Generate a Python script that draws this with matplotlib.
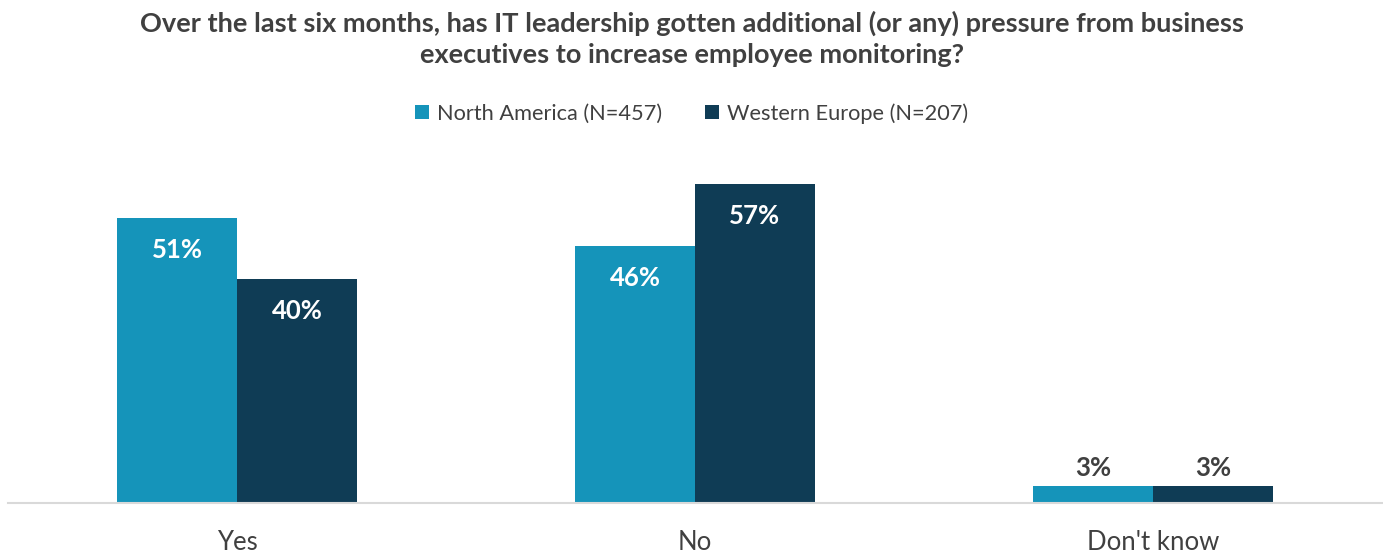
import numpy as np
import matplotlib.pyplot as plt
from matplotlib.patches import Patch

# Survey answers by region (%)
categories = ["Yes", "No", "Don't know"]
north_america = [51, 46, 3]
western_europe = [40, 57, 3]
series_labels = ["North America (N=457)", "Western Europe (N=207)"]

title = ("Over the last six months, has IT leadership gotten additional (or any) pressure from business\n"
         "executives to increase employee monitoring?")

NA_COLOR = "#1594BA"
WE_COLOR = "#0F3C55"
TEXT_COLOR = "#404040"

plt.rcParams["font.family"] = ["Lato", "DejaVu Sans"]

fig = plt.figure(figsize=(13.83, 5.56), dpi=100)
ax = fig.add_axes([8 / 1383, 53.3 / 556, 1374 / 1383, 352.7 / 556])

x = np.arange(len(categories))
w = 0.262

bars_na = ax.bar(x - w / 2, north_america, width=w, color=NA_COLOR)
bars_we = ax.bar(x + w / 2, western_europe, width=w, color=WE_COLOR)

# Value labels: inside the bar when tall enough, otherwise just above it
for bars, vals in [(bars_na, north_america), (bars_we, western_europe)]:
    for b, v in zip(bars, vals):
        cx = b.get_x() + b.get_width() / 2
        if v >= 10:
            ax.annotate(f"{v}%", (cx, v), xytext=(0, -23), textcoords="offset points",
                        ha="center", va="center", fontsize=18.5, fontweight="bold", color="white")
        else:
            ax.annotate(f"{v}%", (cx, v), xytext=(0, 13), textcoords="offset points",
                        ha="center", va="center", fontsize=18.5, fontweight="bold", color=TEXT_COLOR)

ax.set_xlim(-0.5, 2.5)
ax.set_ylim(0, 63.1)
ax.set_xticks(x)
ax.set_xticklabels(categories, fontsize=18.5, color=TEXT_COLOR)
ax.tick_params(axis="x", length=0, pad=20)
ax.set_yticks([])
for side in ["top", "right", "left"]:
    ax.spines[side].set_visible(False)
ax.spines["bottom"].set_color("#D9D9D9")
ax.spines["bottom"].set_linewidth(1.5)

fig.text(0.5, 1 - 39 / 556, title, ha="center", va="center", fontsize=19.5,
         fontweight="bold", color=TEXT_COLOR, linespacing=1.35)

handles = [Patch(facecolor=NA_COLOR), Patch(facecolor=WE_COLOR)]
fig.legend(handles, series_labels, loc="center", bbox_to_anchor=(0.5, 1 - 113.5 / 556),
           ncol=2, frameon=False, fontsize=15.7, labelcolor=TEXT_COLOR,
           handlelength=0.64, handleheight=0.64, handletextpad=0.35, columnspacing=2.0)

fig.savefig("out.png", dpi=100)
